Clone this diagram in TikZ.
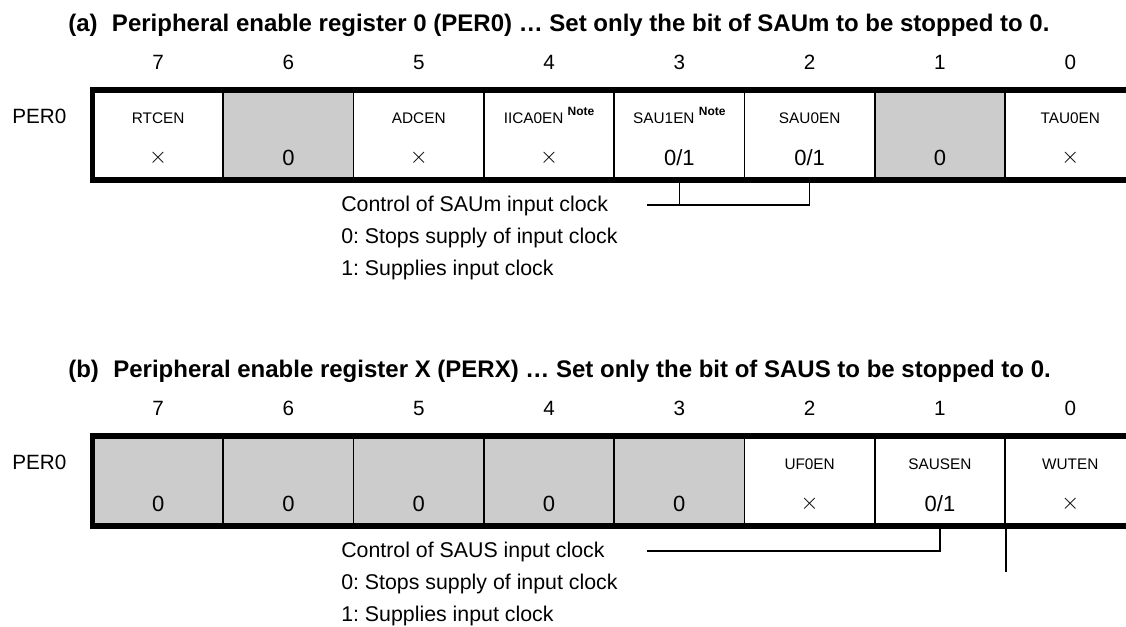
\documentclass[tikz,border=0pt]{standalone}
\usepackage{fontspec}
\setmainfont{Liberation Sans}
\usetikzlibrary{positioning,calc}
\frenchspacing
\definecolor{shade}{RGB}{204,204,204}
\newcommand{\notemark}{~\raisebox{6pt}[0pt][0pt]{\fontsize{9}{10}\selectfont\bfseries Note}}
\newcommand{\dc}{$\times$}
\tikzset{
  cell/.style={draw=black,line width=1.2pt,fill=#1,minimum width=97.7pt,minimum height=66.3pt,inner sep=0pt},
  cell/.default=white,
  regframe/.style={line width=3.8pt,line join=miter},
  conn/.style={line width=1.2pt},
  ttl/.style={font=\fontsize{18}{22}\selectfont\bfseries,anchor=base west,inner sep=0pt},
  bitno/.style={font=\fontsize{15.5}{18}\selectfont,inner sep=0pt},
  regname/.style={font=\fontsize{15.5}{18}\selectfont,anchor=west,inner sep=0pt},
  fieldname/.style={font=\fontsize{11.5}{14}\selectfont,inner sep=0pt},
  bitval/.style={font=\fontsize{16.5}{19}\selectfont,inner sep=0pt},
  desc/.style={font=\fontsize{16}{19}\selectfont,anchor=base west,inner sep=0pt},
}

\begin{document}
\begin{tikzpicture}[x=0.75pt,y=-0.75pt]
  \useasboundingbox (0,0) rectangle (1126,626);
  \clip (0,0) rectangle (1126,626);

  % (a) PER0
  \node[ttl] (ttlA) at (68,31.7) {(a)\hspace{0.6em}Peripheral enable register 0 (PER0) … Set only the bit of SAUm to be stopped to 0.};
  \node[regname] (regA) at (12,116.7) {PER0};
  \foreach \k/\f/\v/\c in {7/RTCEN/\dc/white,6//0/shade,5/ADCEN/\dc/white,4/IICA0EN\notemark/\dc/white,
    3/SAU1EN\notemark/{0/1}/white,2/SAU0EN/{0/1}/white,1//0/shade,0/TAU0EN/\dc/white}{
    \node[cell=\c] (a\k) at ({158.15+130.3*(7-\k)},135) {};
    \node[bitno] (na\k) at ({158.15+130.3*(7-\k)},62.5) {\k};
    \node[fieldname] (fa\k) at ($(a\k.center)+(0,-16.3)$) {\f};
    \node[bitval] (va\k) at ($(a\k.center)+(0,22.5)$) {\v};
  }
  \draw[regframe] (a0.north east) -- (a7.north west) -- (a7.south west) -- (a0.south east);

  \node[desc] (ctlA) at (341,211.7) {Control of SAUm input clock};
  \node[desc] (offA) at (341,243.3) {0: Stops supply of input clock};
  \node[desc] (onA) at (341,275) {1: Supplies input clock};
  \coordinate (tapA) at (646.7,205);
  \draw[conn] (tapA) -| (a2.south);
  \draw[conn] (a3.south) -- (a3.south |- tapA);

  % (b) PERX
  \node[ttl] (ttlB) at (68,377.7) {(b)\hspace{0.6em}Peripheral enable register X (PERX) … Set only the bit of SAUS to be stopped to 0.};
  \node[regname] (regB) at (12,462.7) {PER0};
  \foreach \k/\f/\v/\c in {7//0/shade,6//0/shade,5//0/shade,4//0/shade,3//0/shade,
    2/UF0EN/\dc/white,1/SAUSEN/{0/1}/white,0/WUTEN/\dc/white}{
    \node[cell=\c] (b\k) at ({158.15+130.3*(7-\k)},481) {};
    \node[bitno] (nb\k) at ({158.15+130.3*(7-\k)},408.5) {\k};
    \node[fieldname] (fb\k) at ($(b\k.center)+(0,-16.3)$) {\f};
    \node[bitval] (vb\k) at ($(b\k.center)+(0,22.5)$) {\v};
  }
  \draw[regframe] (b0.north east) -- (b7.north west) -- (b7.south west) -- (b0.south east);

  \node[desc] (ctlB) at (341,557.7) {Control of SAUS input clock};
  \node[desc] (offB) at (341,589.3) {0: Stops supply of input clock};
  \node[desc] (onB) at (341,621) {1: Supplies input clock};
  \coordinate (tapB) at (646.7,551);
  \coordinate (stubB) at (1005,572);
  \draw[conn] (tapB) -| (b1.south);
  \draw[conn] (b1.south east) -- (b1.south east |- stubB);
\end{tikzpicture}
\end{document}
